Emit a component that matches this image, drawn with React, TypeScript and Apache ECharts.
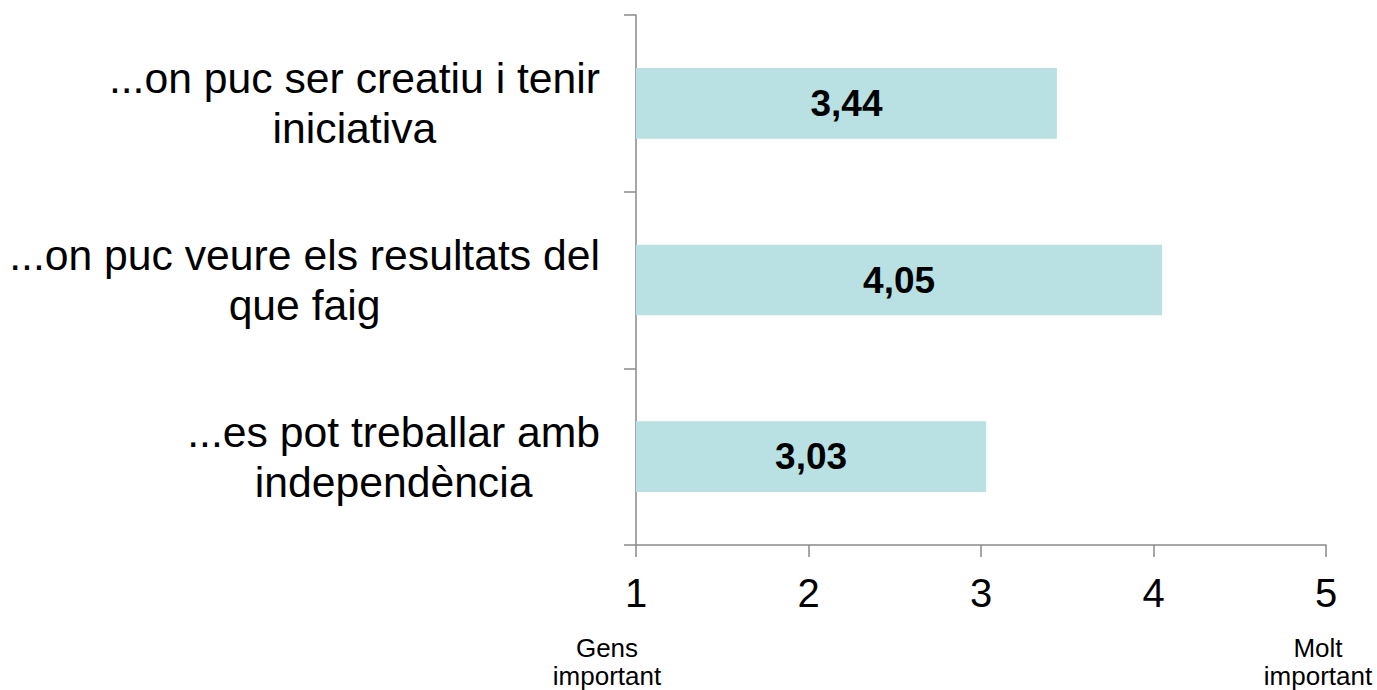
import React, { useEffect, useRef } from "react";
import * as echarts from "echarts";

const categories: string[] = [
  "...on puc ser creatiu i tenir\niniciativa",
  "...on puc veure els resultats del\nque faig",
  "...es pot treballar amb\nindependència",
];
const values: number[] = [3.44, 4.05, 3.03];
const xTicks: number[] = [1, 2, 3, 4, 5];
const scaleLow = "Gens\nimportant";
const scaleHigh = "Molt\nimportant";

const FONT = "'Liberation Sans', Arial, Helvetica, sans-serif";
const AXIS_COLOR = "#8a8a8a";

export default function App() {
  const ref = useRef<HTMLDivElement>(null);

  useEffect(() => {
    if (!ref.current) return;
    const chart = echarts.init(ref.current, undefined, { renderer: "svg" });
    const option: any = {
      animation: false,
      backgroundColor: "#ffffff",
      textStyle: { fontFamily: FONT },
      grid: { left: 636, right: 51, top: 15, bottom: 145, containLabel: false },
      xAxis: {
        type: "value",
        min: xTicks[0],
        max: xTicks[xTicks.length - 1],
        interval: 1,
        startValue: xTicks[0],
        splitLine: { show: false },
        axisLine: { show: true, lineStyle: { color: AXIS_COLOR, width: 1.5 } },
        axisTick: { show: true, length: 12, lineStyle: { color: AXIS_COLOR, width: 1.5 } },
        axisLabel: {
          color: "#000",
          fontSize: 40,
          fontFamily: FONT,
          margin: 28,
          formatter: (v: number) => String(v),
        },
      },
      yAxis: {
        type: "category",
        inverse: true,
        data: categories,
        axisLine: { show: true, lineStyle: { color: AXIS_COLOR, width: 1.5 } },
        axisTick: { show: true, length: 12, lineStyle: { color: AXIS_COLOR, width: 1.5 } },
        axisLabel: {
          color: "#000",
          margin: 36,
          align: "right",
          formatter: (v: string) =>
            v
              .split("\n")
              .map((l) => `{c|${l}}`)
              .join("\n"),
          rich: {
            c: {
              align: "center",
              fontSize: 42.7,
              lineHeight: 50,
              fontFamily: FONT,
              color: "#000",
            },
          },
        },
      },
      series: [
        {
          type: "bar",
          data: values,
          barCategoryGap: "60%",
          clip: true,
          itemStyle: { color: "#b9e0e3" },
          label: {
            show: true,
            position: "inside",
            color: "#000",
            fontWeight: "bold",
            fontSize: 37,
            fontFamily: FONT,
            formatter: (p: any) => Number(p.value).toFixed(2).replace(".", ","),
          },
        },
      ],
    };
    chart.setOption(option);

    const xLow = chart.convertToPixel({ xAxisIndex: 0 }, xTicks[0]) as number;
    const xHigh = chart.convertToPixel({ xAxisIndex: 0 }, xTicks[xTicks.length - 1]) as number;
    chart.setOption({
      graphic: [
        {
          type: "text",
          id: "low",
          x: xLow - 29,
          y: 634,
          style: {
            text: scaleLow,
            fill: "#000",
            fontSize: 26,
            fontFamily: FONT,
            lineHeight: 28,
            align: "center",
            verticalAlign: "top",
          },
        },
        {
          type: "text",
          id: "high",
          x: xHigh - 8,
          y: 634,
          style: {
            text: scaleHigh,
            fill: "#000",
            fontSize: 26,
            fontFamily: FONT,
            lineHeight: 28,
            align: "center",
            verticalAlign: "top",
          },
        },
      ],
    });

    return () => chart.dispose();
  }, []);

  return (
    <div
      ref={ref}
      style={{ position: "fixed", left: 0, top: 0, width: 1377, height: 690 }}
    />
  );
}
